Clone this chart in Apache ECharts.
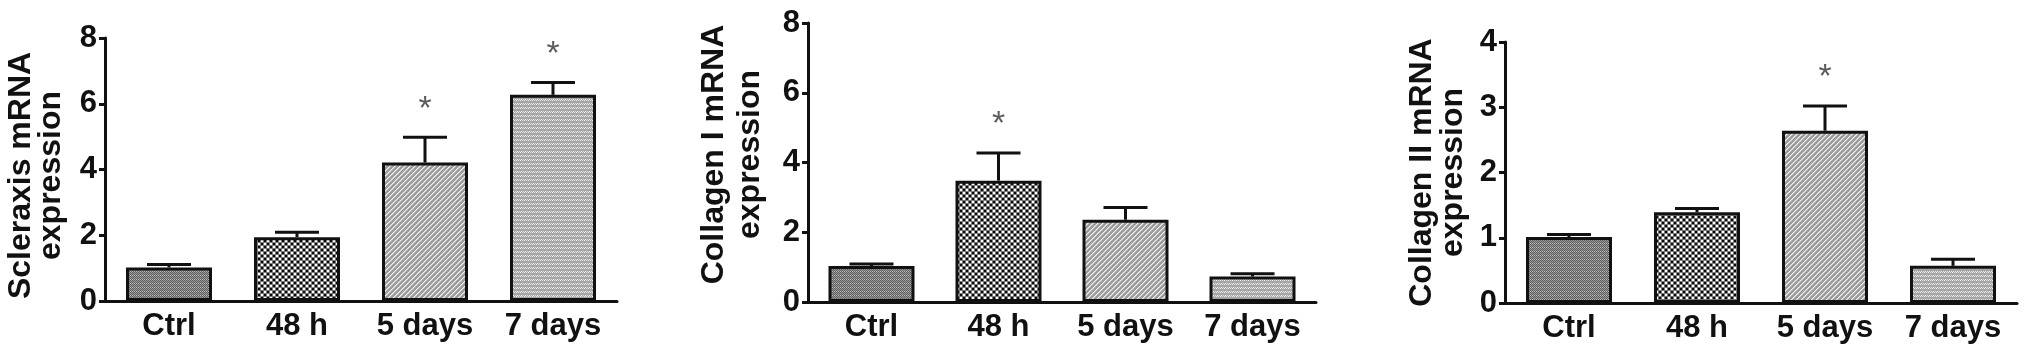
<!DOCTYPE html>
<html>
<head>
<meta charset="utf-8">
<script src="https://cdn.jsdelivr.net/npm/echarts@6/dist/echarts.min.js"></script>
<style>
html,body{margin:0;padding:0;background:#fff;}
#chart{width:2031px;height:357px;}
</style>
</head>
<body>
<div id="chart"></div>
<script>
// ---- data ----
const categories = ['Ctrl', '48 h', '5 days', '7 days'];

const scleraxisMean = [1.02, 1.94, 4.21, 6.27];
const scleraxisErr  = [0.09, 0.15, 0.77, 0.38];
const scleraxisSig  = [false, false, true, true];

const collagen1Mean = [1.03, 3.48, 2.36, 0.73];
const collagen1Err  = [0.06, 0.79, 0.35, 0.08];
const collagen1Sig  = [false, true, false, false];

const collagen2Mean = [1.01, 1.39, 2.64, 0.57];
const collagen2Err  = [0.04, 0.06, 0.38, 0.10];
const collagen2Sig  = [false, false, true, false];

const yTitles = ['Scleraxis mRNA\nexpression', 'Collagen I mRNA\nexpression', 'Collagen II mRNA\nexpression'];
const yMax = [8, 8, 4];
const yInterval = [2, 2, 1];

// ---- patterns ----
function makePattern(w, h, fn) {
  const c = document.createElement('canvas');
  c.width = w; c.height = h;
  const ctx = c.getContext('2d');
  for (let y = 0; y < h; y++) for (let x = 0; x < w; x++) {
    ctx.fillStyle = fn(x, y);
    ctx.fillRect(x, y, 1, 1);
  }
  return { image: c, repeat: 'repeat' };
}
const patCtrl = makePattern(4, 4, (x, y) => ((x + y) % 2 === 0 ? '#5e5e5e' : (y % 4 === 3 ? '#bdbdbd' : '#9a9a9a')));
const pat48 = makePattern(6, 6, (x, y) => {
  const cx = Math.floor(x / 3), cy = Math.floor(y / 3);
  const inner = (x % 3 < 2) && (y % 3 < 2);
  if (!inner) return '#7a7a7a';
  return ((cx + cy) % 2 === 0) ? '#0a0a0a' : '#ffffff';
});
const pat5d = makePattern(5, 5, (x, y) => {
  const k = (x + y) % 5;
  return k === 0 ? '#f2f2f2' : (k === 1 ? '#c8c8c8' : '#9c9c9c');
});
const pat7d = makePattern(8, 8, (x, y) => {
  const k = (x + y) % 4;
  if (k === 0 && (Math.floor(x / 2) % 2 === 0)) return '#f4f4f4';
  if (k === 2 && (Math.floor(x / 2) % 2 === 1)) return '#e0e0e0';
  return '#a6a6a6';
});
const patterns = [patCtrl, pat48, pat5d, pat7d];

const panels = [
  { mean: scleraxisMean, err: scleraxisErr, sig: scleraxisSig },
  { mean: collagen1Mean, err: collagen1Err, sig: collagen1Sig },
  { mean: collagen2Mean, err: collagen2Err, sig: collagen2Sig }
];

const grids = [
  { left: 105, top: 38, width: 512, height: 263 },
  { left: 808, top: 23, width: 508, height: 279 },
  { left: 1505, top: 42, width: 512, height: 261 }
];
// title placement per panel: gap from axis, line height, padding (shift along axis)
const titleLayout = [
  { gap: 39, lh: 30, pad: [0, 12, 0, 0] },
  { gap: 40, lh: 36, pad: [0, 0, 0, 16] },
  { gap: 36, lh: 31, pad: [0, 0, 0, 0] }
];

const FONT = '"Liberation Sans", Arial, sans-serif';
const INK = '#111';

const xAxes = [], yAxes = [], series = [];
panels.forEach((p, g) => {
  const tl = titleLayout[g];
  xAxes.push({
    type: 'category', gridIndex: g, data: categories,
    axisLine: { lineStyle: { color: INK, width: 3 } },
    axisTick: { alignWithLabel: true, length: 7, lineStyle: { color: INK, width: 3 } },
    axisLabel: { margin: 10, color: INK, fontSize: 31, fontWeight: 'bold', fontFamily: FONT, interval: 0 }
  });
  yAxes.push({
    type: 'value', gridIndex: g, min: 0, max: yMax[g], interval: yInterval[g],
    name: yTitles[g], nameLocation: 'middle', nameRotate: 90, nameGap: tl.gap,
    nameTextStyle: { color: INK, fontSize: 32, fontWeight: 'bold', fontFamily: FONT, lineHeight: tl.lh, padding: tl.pad },
    axisLine: { show: true, lineStyle: { color: INK, width: 3 } },
    axisTick: { show: true, length: 6, lineStyle: { color: INK, width: 3 } },
    axisLabel: { margin: 8, color: INK, fontSize: 31, fontWeight: 'bold', fontFamily: FONT, padding: [5, 0, 0, 0] },
    splitLine: { show: false }
  });
  series.push({
    type: 'custom', xAxisIndex: g, yAxisIndex: g, z: 1,
    data: p.mean.map((m, i) => [i, m, p.err[i]]),
    encode: { x: 0, y: 1 },
    renderItem: function (params, api) {
      const i = api.value(0), m = api.value(1), e = api.value(2);
      const b = api.coord([i, m]);
      const t = api.coord([i, m + e]);
      const half = 22;
      return {
        type: 'group', children: [
          { type: 'line', shape: { x1: b[0], y1: b[1], x2: t[0], y2: t[1] }, style: { stroke: INK, lineWidth: 3 } },
          { type: 'line', shape: { x1: t[0] - half, y1: t[1], x2: t[0] + half, y2: t[1] }, style: { stroke: INK, lineWidth: 3 } }
        ]
      };
    }
  });
  series.push({
    type: 'bar', xAxisIndex: g, yAxisIndex: g, z: 2, barWidth: 86,
    data: p.mean.map((m, i) => ({ value: m, itemStyle: { color: patterns[i] } })),
    itemStyle: { borderColor: INK, borderWidth: 3 }
  });
  series.push({
    type: 'scatter', xAxisIndex: g, yAxisIndex: g, z: 3, symbolSize: 1,
    itemStyle: { color: 'rgba(0,0,0,0)' },
    data: p.mean.map((m, i) => (p.sig[i] ? [i, m + p.err[i]] : null)).filter(d => d !== null),
    label: { show: true, formatter: '*', position: 'inside', offset: [0, -28], fontSize: 34, color: '#333', fontFamily: FONT }
  });
});

const chart = echarts.init(document.getElementById('chart'), null, { renderer: 'canvas' });
chart.setOption({
  animation: false,
  backgroundColor: '#fff',
  grid: grids,
  xAxis: xAxes,
  yAxis: yAxes,
  series: series
});
</script>
</body>
</html>
